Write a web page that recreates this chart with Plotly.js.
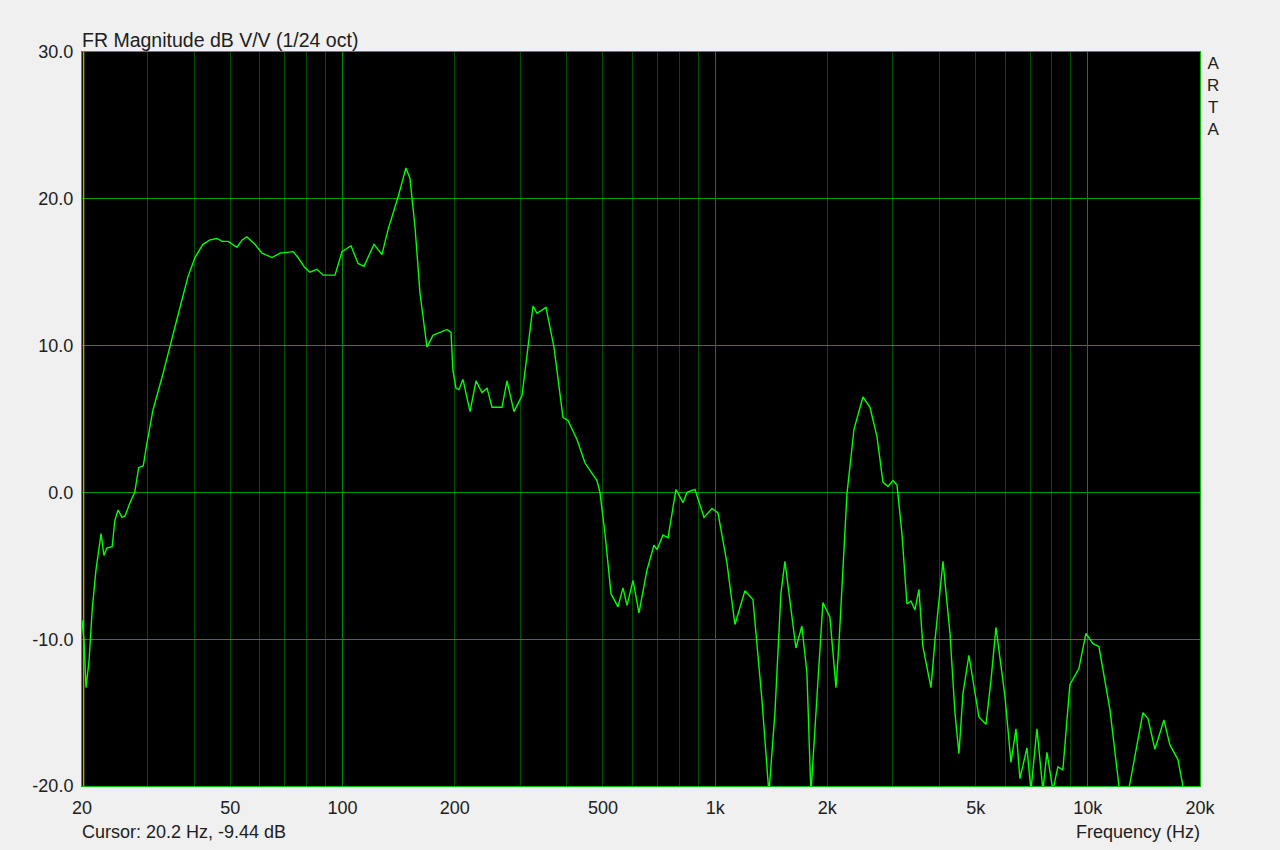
<!DOCTYPE html>
<html>
<head>
<meta charset="utf-8">
<script src="https://cdn.plot.ly/plotly-3.0.1.min.js"></script>
<style>
html,body{margin:0;padding:0;background:#f0f0f0;}
#chart{width:1280px;height:850px;}
</style>
</head>
<body>
<div id="chart"></div>
<script>
// Frequency (Hz)
var freq = [20.0, 20.25, 20.5, 20.9, 21.3, 21.8, 22.5, 22.9, 23.3, 24.1, 24.5, 25.0, 25.6, 26.1, 26.9, 27.7, 28.4, 29.2, 29.9, 31.0,
  33.0, 34.9, 36.9, 38.5, 40.2, 42.2, 44.1, 46.1, 47.5, 49.3, 52.1, 53.8, 55.4, 58.2, 60.8, 64.7, 68.0, 73.7, 76.0, 79.3,
  81.8, 85.4, 88.7, 95.5, 99.7, 105.4, 110.1, 114.2, 121.5, 127.6, 132.5, 140.9, 148.0, 151.7, 156.5, 161.4, 168.5,
  174.9, 190.7, 195.5, 197.9, 201.6, 205.4, 210.5, 219.9, 228.2, 236.8, 244.3, 251.9, 267.9, 276.3, 288.5, 303.2, 314.6,
  324.5, 332.6, 351.6, 369.4, 390.6, 402.8, 425.8, 447.5, 481.8, 490.8, 506.2, 525.4, 548.5, 565.8, 580.0, 601.9, 624.6,
  656.2, 685.2, 698.0, 724.5, 747.3, 785.0, 819.8, 840.4, 882.9, 933.4, 980.7, 1017.7,
  1075.6, 1130, 1202, 1263, 1335, 1394, 1447, 1501, 1539, 1597, 1647, 1709, 1763, 1807, 1864, 1946, 2032, 2110, 2149,
  2258, 2358, 2492, 2603, 2718, 2820, 2909, 3000, 3076, 3171, 3271, 3352, 3436, 3522, 3610, 3794, 3889, 4087, 4267,
  4400, 4510, 4623, 4797, 5103, 5330, 5497, 5670, 5993, 6220, 6415, 6574, 6865, 7037, 7302, 7577, 7767, 8059, 8312,
  8572, 8951, 9464, 9883, 10320, 10710, 11466, 12122, 12502, 12975, 14058, 14500, 15139, 16004, 16608, 17450, 17998, 18794];
// Magnitude (dB)
var magDb = [-8.7, -10.1, -13.3, -11.4, -8.0, -5.3, -2.8, -4.3, -3.8, -3.7, -1.9, -1.2, -1.7, -1.6, -0.7, 0.0, 1.7, 1.8, 3.4, 5.6,
  8.1, 10.6, 12.9, 14.7, 16.0, 16.9, 17.2, 17.3, 17.1, 17.1, 16.7, 17.2, 17.4, 16.9, 16.3, 16.0, 16.3, 16.4, 16.0, 15.3,
  15.0, 15.2, 14.8, 14.8, 16.4, 16.8, 15.6, 15.4, 16.9, 16.2, 17.9, 20.1, 22.1, 21.4, 18.1, 13.6, 9.9,
  10.7, 11.1, 10.9, 8.3, 7.1, 7.0, 7.7, 5.5, 7.6, 6.8, 7.1, 5.8, 5.8, 7.6, 5.5, 6.6, 9.9,
  12.7, 12.2, 12.6, 9.9, 5.1, 4.9, 3.6, 2.0, 0.8, 0.0, -2.8, -6.9, -7.8, -6.5, -7.7, -6.0, -8.2,
  -5.3, -3.6, -3.9, -2.9, -3.1, 0.2, -0.7, 0.0, 0.2, -1.7, -1.1, -1.4,
  -4.8, -9.0, -6.7, -7.3, -14.1, -20.5, -15.0, -6.9, -4.7, -7.8, -10.6, -9.1, -12.3, -20.5, -15.0, -7.5, -8.5, -13.3, -10.3,
  -0.1, 4.3, 6.5, 5.8, 3.8, 0.7, 0.4, 0.8, 0.5, -2.8, -7.6, -7.4, -8.0, -6.6, -10.5, -13.3, -10.1, -4.7, -9.6,
  -15.0, -17.8, -13.7, -11.1, -15.3, -15.8, -12.8, -9.2, -13.9, -18.4, -16.1, -19.5, -17.4, -20.3, -16.1, -20.3, -17.7, -20.3, -18.7,
  -18.9, -13.1, -12.0, -9.6, -10.3, -10.5, -14.8, -20.0, -21.5, -19.8, -15.0, -15.4, -17.5, -15.5, -17.2, -18.2, -20.0, -21.6];

var xTickVals = [20, 50, 100, 200, 500, 1000, 2000, 5000, 10000, 20000];
var xTickText = ['20', '50', '100', '200', '500', '1k', '2k', '5k', '10k', '20k'];
var xMinorVals = [30, 40, 50, 60, 70, 80, 90, 200, 300, 400, 500, 600, 700, 800, 900,
  2000, 3000, 4000, 5000, 6000, 7000, 8000, 9000];
var xDecadeVals = [100, 1000, 10000];
var yTickVals = [-20, -10, 0, 10, 20, 30];
var yTickText = ['-20.0', '-10.0', '0.0', '10.0', '20.0', '30.0'];
var cursorFreq = 20.2, cursorDb = -9.44;

var FONT = 'Liberation Sans, Arial, sans-serif';
var xr = [Math.log10(20), Math.log10(20000)];

var traces = [
  {x: xDecadeVals, y: xDecadeVals.map(function(){return 0;}), xaxis: 'x2', yaxis: 'y', mode: 'none', type: 'scatter', hoverinfo: 'skip', showlegend: false},
  {x: [cursorFreq, cursorFreq], y: [-20, 30], mode: 'lines', type: 'scatter', line: {color: '#b8a000', width: 1.5}, hoverinfo: 'skip', showlegend: false},
  {x: freq, y: magDb, mode: 'lines', type: 'scatter', line: {color: '#00ff00', width: 1.4}, showlegend: false}
];

var layout = {
  width: 1280, height: 850,
  paper_bgcolor: '#f0f0f0', plot_bgcolor: '#000000',
  margin: {l: 82, r: 80, t: 52, b: 64},
  font: {family: FONT, size: 18, color: '#202020'},
  title: {text: 'FR Magnitude dB V/V (1/24 oct)', font: {family: FONT, size: 19.5, color: '#202020'},
    x: 0, xref: 'paper', xanchor: 'left', y: 1, yref: 'paper', yanchor: 'bottom', pad: {b: 5}},
  xaxis: {type: 'log', range: xr, tickmode: 'array', tickvals: xTickVals, ticktext: xTickText,
    showgrid: false, ticks: '', ticklabelstandoff: 5, tickfont: {size: 18},
    showline: true, mirror: true, linecolor: '#00c000', linewidth: 1, zeroline: false,
    minor: {tickmode: 'array', tickvals: xMinorVals, showgrid: true, gridcolor: '#005000', gridwidth: 1, ticks: ''}},
  xaxis2: {type: 'log', range: xr, overlaying: 'x', tickmode: 'array', tickvals: xDecadeVals,
    showticklabels: false, showgrid: true, gridcolor: '#008c00', gridwidth: 1, ticks: '', showline: false, zeroline: false},
  yaxis: {range: [-20, 30], tickmode: 'array', tickvals: yTickVals, ticktext: yTickText,
    showgrid: true, gridcolor: '#009c00', gridwidth: 1, ticks: '', ticklabelstandoff: 4, tickfont: {size: 18},
    showline: true, mirror: true, linecolor: '#00c000', linewidth: 1, zeroline: false},
  annotations: [
    {text: 'A<br>R<br>T<br>A', xref: 'paper', yref: 'paper', x: 1, y: 1, xanchor: 'left', yanchor: 'top',
      xshift: 5, yshift: 0, showarrow: false, align: 'center', font: {family: FONT, size: 17, color: '#202020'}},
    {text: 'Cursor: ' + cursorFreq + ' Hz, ' + cursorDb + ' dB', xref: 'paper', yref: 'paper', x: 0, y: 0,
      xanchor: 'left', yanchor: 'top', yshift: -34, xshift: -2, showarrow: false, font: {family: FONT, size: 18, color: '#202020'}},
    {text: 'Frequency (Hz)', xref: 'paper', yref: 'paper', x: 1, y: 0,
      xanchor: 'right', yanchor: 'top', yshift: -34, xshift: 2, showarrow: false, font: {family: FONT, size: 18, color: '#202020'}}
  ]
};

Plotly.newPlot('chart', traces, layout, {staticPlot: true, displayModeBar: false});
</script>
</body>
</html>
